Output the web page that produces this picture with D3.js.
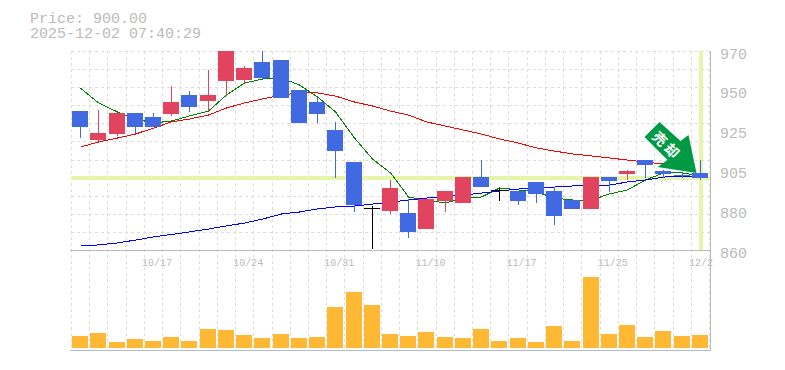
<!DOCTYPE html>
<html>
<head>
<meta charset="utf-8">
<script src="https://cdn.jsdelivr.net/npm/d3@7.9.0/dist/d3.min.js"></script>
<style>
  html, body { margin: 0; padding: 0; background: #fff; }
  svg { display: block; }
  text { font-family: "Liberation Mono", monospace; fill: #bbb; }
</style>
</head>
<body>
<div id="chart"></div>
<script>
// -------------------------------
// Data
// -------------------------------
const priceText = 'Price: 900.00';
const timeText = '2025-12-02 07:40:29';
const currentPrice = 900;

const open  = [936.8, 920.8, 924.1, 935.7, 933.5, 935.2, 945.7, 942.4, 953.4, 954.0, 963.9, 965.0, 948.4, 941.8, 926.3, 908.6, 883.2, 881.6, 880.5, 871.6, 887.1, 886.0, 900.3, 893.2, 892.6, 897.6, 892.6, 887.6, 882.7, 900.3, 902.0, 909.7, 903.7, 901.2, 902.6];
const close = [928.0, 924.7, 935.7, 928.0, 928.0, 941.8, 939.0, 945.7, 970.0, 960.6, 955.1, 944.0, 930.2, 935.2, 914.7, 884.9, 883.2, 894.3, 870.0, 888.2, 892.6, 900.3, 894.8, 893.2, 887.1, 891.0, 878.8, 882.7, 900.3, 898.1, 903.7, 907.0, 902.0, 900.9, 900.0];
const high  = [936.8, 937.4, 935.7, 935.7, 935.7, 950.7, 947.9, 959.5, 970.0, 961.7, 970.0, 965.0, 948.4, 944.6, 930.8, 908.6, 884.3, 898.7, 888.2, 888.2, 892.6, 900.3, 909.7, 894.3, 892.6, 897.6, 894.8, 888.2, 900.3, 900.3, 904.2, 909.7, 904.2, 902.6, 909.7];
const low   = [921.9, 920.3, 923.0, 924.7, 928.0, 934.1, 936.3, 936.8, 945.1, 952.3, 954.0, 944.0, 930.2, 930.2, 899.8, 881.0, 860.6, 879.9, 866.6, 871.6, 881.0, 886.0, 894.8, 887.1, 884.9, 886.0, 873.8, 882.7, 882.7, 892.1, 898.7, 899.8, 899.8, 899.8, 898.7];

const volume = [12, 15, 6, 9, 7, 11, 7, 19, 18, 13, 10, 14, 10, 11, 41, 56, 43, 14, 12, 16, 11, 10, 19, 7, 10, 6, 22, 7, 71, 14, 23, 11, 17, 12, 13];

const maShort = [949.5, 941.3, 936.3, 932.4, 930.2, 931.3, 934.1, 936.8, 945.7, 952.3, 954.5, 955.1, 951.2, 944.6, 936.3, 921.9, 910.3, 902.6, 889.3, 887.6, 886.0, 888.7, 889.3, 894.3, 893.2, 892.1, 888.7, 887.6, 887.6, 891.0, 893.2, 898.7, 902.6, 902.6, 900.9];
const maMiddle = [916.9, 919.7, 921.9, 924.1, 927.4, 930.8, 932.4, 934.6, 938.5, 941.3, 943.5, 945.7, 946.8, 946.8, 945.1, 941.8, 939.6, 936.8, 934.6, 930.8, 928.5, 926.3, 924.1, 921.4, 919.1, 916.4, 914.7, 913.1, 912.0, 910.9, 909.7, 908.6, 907.5];
const maLong = [862.2, 862.8, 863.9, 865.5, 867.2, 868.6, 870.0, 871.6, 873.3, 874.9, 877.1, 879.9, 881.0, 882.7, 883.8, 884.3, 885.4, 886.5, 887.6, 888.7, 889.8, 890.4, 891.5, 892.6, 893.7, 894.3, 894.8, 895.4, 895.4, 895.9, 897.6, 898.7, 900.3, 900.9, 900.9];

const priceTicks = [970, 948, 926, 904, 882, 860];
const priceTickLabels = ['970', '950', '925', '905', '880', '860'];
const dateTicks = [4, 9, 14, 19, 24, 29, 34];
const dateTickLabels = ['10/17', '10/24', '10/31', '11/10', '11/17', '11/25', '12/2'];
const gridPrices = d3.range(860, 971, 10);

// -------------------------------
// Scales
// -------------------------------
const width = 785;
const height = 370;
const left = 71, right = 709;
const priceTop = 51, priceBottom = 250;
const volumeBase = 348, panelBottom = 350;

const xScale = d3.scaleBand().domain(d3.range(open.length)).range([left, right]);
const yScale = d3.scaleLinear().domain([860, 970]).range([priceBottom, priceTop]);
const volScale = d3.scaleLinear().domain([0, 100]).range([volumeBase, volumeBase - 100]);

const centerX = (i) => Math.round(xScale(i) + xScale.step() / 2) + 0.5;
const bodyW = 16;

const svg = d3.select('#chart')
  .append('svg')
  .attr('width', width)
  .attr('height', height);

// -------------------------------
// Header
// -------------------------------
svg.append('text').attr('x', 30).attr('y', 23).attr('font-size', 15).text(priceText);
svg.append('text').attr('x', 30).attr('y', 38).attr('font-size', 15).text(timeText);

// -------------------------------
// Grid and frame
// -------------------------------
const grid = svg.append('g')
  .attr('stroke', '#ddd')
  .attr('stroke-dasharray', '3 3')
  .attr('shape-rendering', 'crispEdges');

grid.selectAll('line.h')
  .data(gridPrices)
  .join('line')
  .attr('class', 'h')
  .attr('x1', left).attr('x2', right)
  .attr('y1', (d) => Math.round(yScale(d)) + 0.5)
  .attr('y2', (d) => Math.round(yScale(d)) + 0.5);

grid.selectAll('line.v')
  .data(d3.range(open.length + 1))
  .join('line')
  .attr('class', 'v')
  .attr('x1', (d) => Math.round(left + d * xScale.step()) + 0.5)
  .attr('x2', (d) => Math.round(left + d * xScale.step()) + 0.5)
  .attr('y1', priceTop)
  .attr('y2', panelBottom);

// current price markers
svg.append('rect')
  .attr('x', left).attr('width', right - left)
  .attr('y', Math.round(yScale(currentPrice)) - 2).attr('height', 4)
  .attr('fill', '#e6f5aa');
svg.append('rect')
  .attr('x', Math.round(centerX(34)) - 2).attr('width', 4)
  .attr('y', priceTop).attr('height', priceBottom - priceTop)
  .attr('fill', '#e6f5aa');

const frame = svg.append('g').attr('stroke', '#bbb').attr('shape-rendering', 'crispEdges');
frame.append('line').attr('x1', 70).attr('x2', 711).attr('y1', priceBottom + 0.5).attr('y2', priceBottom + 0.5);
frame.append('line').attr('x1', 70).attr('x2', 711).attr('y1', panelBottom + 0.5).attr('y2', panelBottom + 0.5);
frame.append('line').attr('x1', 710.5).attr('x2', 710.5).attr('y1', priceTop).attr('y2', panelBottom + 1);

// -------------------------------
// Moving averages
// -------------------------------
const line = d3.line()
  .x((d, i) => centerX(i))
  .y((d) => yScale(d));

const maLines = svg.append('g').attr('fill', 'none').attr('shape-rendering', 'crispEdges');
maLines.append('path').attr('d', line(maShort)).attr('stroke', '#008000').attr('stroke-width', 1);
maLines.append('path').attr('d', line(maMiddle)).attr('stroke', '#ff0000').attr('stroke-width', 1);
maLines.append('path').attr('d', line(maLong)).attr('stroke', '#0000ff').attr('stroke-width', 1);

// -------------------------------
// Candles
// -------------------------------
const candleColor = (i) => {
  if (open[i] === close[i]) return '#000';
  return close[i] > open[i] ? '#e2435f' : '#4169e1';
};

const candles = svg.append('g').attr('shape-rendering', 'crispEdges');

candles.selectAll('line')
  .data(d3.range(open.length))
  .join('line')
  .attr('x1', centerX).attr('x2', centerX)
  .attr('y1', (i) => yScale(high[i]))
  .attr('y2', (i) => yScale(low[i]))
  .attr('stroke', candleColor);

candles.selectAll('rect')
  .data(d3.range(open.length))
  .join('rect')
  .attr('x', (i) => centerX(i) - 0.5 - bodyW / 2)
  .attr('width', bodyW)
  .attr('y', (i) => yScale(Math.max(open[i], close[i])))
  .attr('height', (i) => Math.max(1, Math.abs(yScale(open[i]) - yScale(close[i]))))
  .attr('fill', candleColor);

// -------------------------------
// Volume
// -------------------------------
svg.append('g')
  .attr('shape-rendering', 'crispEdges')
  .selectAll('rect')
  .data(volume)
  .join('rect')
  .attr('x', (d, i) => centerX(i) - 0.5 - bodyW / 2)
  .attr('width', bodyW)
  .attr('y', (d) => volScale(d))
  .attr('height', (d) => volumeBase - volScale(d))
  .attr('fill', '#ffb833');

// -------------------------------
// Axes
// -------------------------------
const yAxis = d3.axisRight(yScale)
  .tickValues(priceTicks)
  .tickSize(0)
  .tickPadding(0)
  .tickFormat((d, i) => priceTickLabels[i]);

const yG = svg.append('g').attr('transform', 'translate(720,0)').call(yAxis);
yG.select('.domain').remove();
yG.selectAll('text')
  .attr('font-size', 15)
  .attr('dy', null)
  .attr('y', 7)
  .attr('x', 0)
  .style('fill', '#bbb');

const xAxis = d3.axisBottom(xScale)
  .tickValues(dateTicks)
  .tickSize(0)
  .tickPadding(0)
  .tickFormat((d, i) => dateTickLabels[i]);

const xG = svg.append('g').attr('transform', 'translate(0,266)').call(xAxis);
xG.select('.domain').remove();
xG.selectAll('text')
  .attr('font-size', 10)
  .attr('text-anchor', 'start')
  .attr('dy', null)
  .attr('x', -11)
  .attr('y', 0)
  .style('fill', '#bbb');

// -------------------------------
// Sell arrow on the last candle
// -------------------------------
const arrow = svg.append('g')
  .attr('transform', `translate(${centerX(34) - 4},${yScale(high[34]) + 13})`);

arrow.append('polygon')
  .attr('points', '-37,-51 -52,-36 -29,-13 -39,-6 0,0 -8,-38 -16,-32')
  .attr('fill', '#009944');

arrow.selectAll('text')
  .data(['売', '却'])
  .join('text')
  .attr('transform', (d, i) => `translate(${-36 + i * 12},${-35 + i * 12}) rotate(45)`)
  .attr('text-anchor', 'middle')
  .attr('dominant-baseline', 'central')
  .attr('font-size', 14)
  .attr('font-weight', 700)
  .style('font-family', '"Noto Sans CJK JP"')
  .style('fill', '#fff')
  .text((d) => d);
</script>
</body>
</html>
